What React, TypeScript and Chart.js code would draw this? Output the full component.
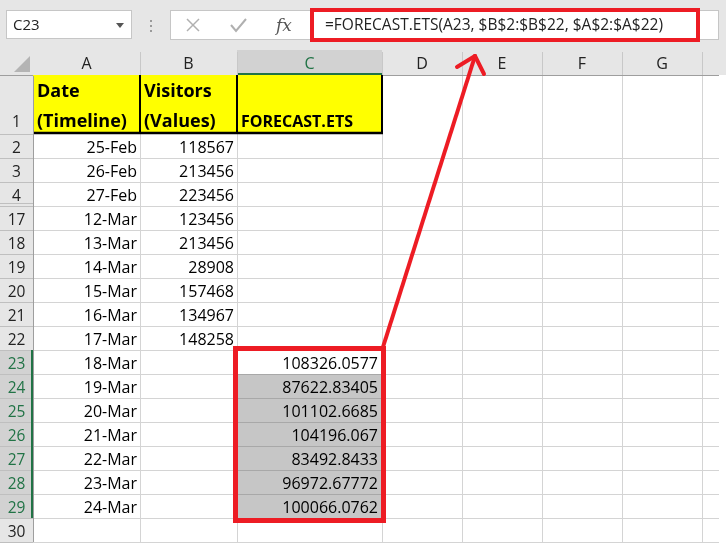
import React, { useEffect, useRef } from "react";
import { Chart, registerables } from "chart.js";

Chart.register(...registerables);

// sheet contents
const nameBox = "C23";
const formula = "=FORECAST.ETS(A23, $B$2:$B$22, $A$2:$A$22)";
const columnLetters = ["A", "B", "C", "D", "E", "F", "G"];
const rowLabels = ["1", "2", "3", "4", "17", "18", "19", "20", "21", "22", "23", "24", "25", "26", "27", "28", "29", "30"];
const headerA = ["Date", "(Timeline)"];
const headerB = ["Visitors", "(Values)"];
const headerC = "FORECAST.ETS";
const dates = ["25-Feb", "26-Feb", "27-Feb", "12-Mar", "13-Mar", "14-Mar", "15-Mar", "16-Mar", "17-Mar",
  "18-Mar", "19-Mar", "20-Mar", "21-Mar", "22-Mar", "23-Mar", "24-Mar"];
const visitors = [118567, 213456, 223456, 123456, 213456, 28908, 157468, 134967, 148258];
const forecast = [108326.0577, 87622.83405, 101102.6685, 104196.067, 83492.8433, 96972.67772, 100066.0762];

// layout (pixel units on the chart's scales)
const W = 726;
const H = 558;
const colEdges = [33, 140, 237, 382, 462, 542, 622, 702, 782];
const gridRight = 719;
const rowTop = (k: number) => (k === 0 ? 75 : 134 + 24 * (k - 1));
const rowBottom = (k: number) => (k === 0 ? 134 : rowTop(k) + 24);
const firstForecastRow = visitors.length + 1;

const GREEN = "#217346";
const RED = "#ED1C24";
const FONT = "'Open Sans', 'Noto Sans', sans-serif";

const sheetPlugin = {
  id: "sheet",
  afterDraw(chart: any) {
    const ctx: CanvasRenderingContext2D = chart.ctx;
    const sx = chart.scales.x;
    const sy = chart.scales.y;
    const X = (v: number) => sx.getPixelForValue(v);
    const Y = (v: number) => sy.getPixelForValue(v);

    const rect = (x0: number, y0: number, x1: number, y1: number, fill: string) => {
      ctx.fillStyle = fill;
      ctx.fillRect(X(x0), Y(y0), X(x1) - X(x0), Y(y1) - Y(y0));
    };
    const line = (x0: number, y0: number, x1: number, y1: number, color: string, w = 1) => {
      ctx.strokeStyle = color;
      ctx.lineWidth = w;
      ctx.beginPath();
      ctx.moveTo(X(x0), Y(y0));
      ctx.lineTo(X(x1), Y(y1));
      ctx.stroke();
    };
    const text = (s: string, x: number, y: number, font: string, color: string, align: CanvasTextAlign = "left") => {
      ctx.font = font;
      ctx.fillStyle = color;
      ctx.textAlign = align;
      ctx.textBaseline = "alphabetic";
      ctx.fillText(s, X(x), Y(y));
    };

    ctx.save();
    rect(0, 0, W, H, "#ffffff");

    // toolbar
    rect(0, 0, W, 75, "#e6e6e6");
    rect(6, 10, 132, 39, "#ffffff");
    ctx.strokeStyle = "#c6c6c6";
    ctx.lineWidth = 1;
    ctx.strokeRect(X(6) + 0.5, Y(10) + 0.5, X(132) - X(6) - 1, Y(39) - Y(10) - 1);
    text(nameBox, 13, 30, `15px ${FONT}`, "#222222");
    ctx.fillStyle = "#555555";
    ctx.beginPath();
    ctx.moveTo(X(116), Y(23));
    ctx.lineTo(X(124), Y(23));
    ctx.lineTo(X(120), Y(28));
    ctx.closePath();
    ctx.fill();
    [20, 25, 30].forEach((d) => rect(150, d, 152, d + 2, "#9a9a9a"));

    rect(170, 10, gridRight, 40, "#ffffff");
    ctx.strokeStyle = "#c6c6c6";
    ctx.strokeRect(X(170) + 0.5, Y(10) + 0.5, X(gridRight) - X(170) - 1, Y(40) - Y(10) - 1);
    line(187, 19, 199, 31, "#b0b0b0", 1.5);
    line(199, 19, 187, 31, "#b0b0b0", 1.5);
    ctx.strokeStyle = "#b0b0b0";
    ctx.lineWidth = 2;
    ctx.beginPath();
    ctx.moveTo(X(231), Y(25));
    ctx.lineTo(X(236), Y(31));
    ctx.lineTo(X(246), Y(19));
    ctx.stroke();
    text("fx", 276, 31, `italic 17px 'DejaVu Serif', serif`, "#555555");
    text(formula, 325, 30, `15.5px ${FONT}`, "#222222");

    ctx.strokeStyle = RED;
    ctx.lineWidth = 4;
    ctx.strokeRect(X(312), Y(10), X(698) - X(312), Y(40) - Y(10));

    // column headers
    rect(colEdges[2], 50, colEdges[3], 75, "#d2d2d2");
    line(colEdges[2], 74, colEdges[3], 74, GREEN, 2);
    columnLetters.forEach((c, i) => {
      const mid = (colEdges[i] + colEdges[i + 1]) / 2;
      text(c, mid, 69, `16px ${FONT}`, i === 2 ? GREEN : "#222222", "center");
      line(colEdges[i + 1] + 0.5, 52, colEdges[i + 1] + 0.5, 75, "#c8c8c8");
    });
    line(0, 75.5, gridRight, 75.5, "#9e9e9e");
    // select-all triangle
    ctx.fillStyle = "#b4b4b4";
    ctx.beginPath();
    ctx.moveTo(X(30), Y(56));
    ctx.lineTo(X(30), Y(72));
    ctx.lineTo(X(14), Y(72));
    ctx.closePath();
    ctx.fill();

    // cell grid
    rect(33, 76, gridRight, 542, "#ffffff");
    rect(colEdges[0], rowTop(0), colEdges[3], rowBottom(0), "#ffff00");
    for (let k = firstForecastRow + 1; k < firstForecastRow + forecast.length; k++) {
      rect(colEdges[2], rowTop(k), colEdges[3], rowBottom(k), "#c6c6c6");
    }
    rowLabels.forEach((_, k) => {
      if (k === 0) return;
      const y = rowBottom(k) + 0.5;
      line(33, y, gridRight, y, "#d4d4d4");
    });
    colEdges.slice(1).forEach((x) => {
      if (x >= gridRight) return;
      line(x + 0.5, 134, x + 0.5, 542, "#d4d4d4");
      if (x > colEdges[3]) line(x + 0.5, 76, x + 0.5, 134, "#d4d4d4");
    });
    for (let k = firstForecastRow + 1; k < firstForecastRow + forecast.length; k++) {
      line(colEdges[2], rowTop(k) + 0.5, colEdges[3], rowTop(k) + 0.5, "#a8a8a8");
    }
    // header cell borders
    [colEdges[1], colEdges[2], colEdges[3]].forEach((x) => line(x, 75, x, 134, "#000000", 2));
    line(33, 133, colEdges[3] + 1, 133, "#000000", 2.5);

    // row headers
    rect(0, 76, 33, 542, "#e6e6e6");
    rect(0, rowTop(firstForecastRow), 33, rowBottom(firstForecastRow + forecast.length - 1), "#d2d2d2");
    rowLabels.forEach((r, k) => {
      const sel = k >= firstForecastRow && k < firstForecastRow + forecast.length;
      text(r, 16.5, k === 0 ? 127 : rowTop(k) + 19, `15.5px ${FONT}`, sel ? GREEN : "#222222", "center");
      line(0, rowBottom(k) + 0.5, 33, rowBottom(k) + 0.5, "#bfbfbf");
    });
    line(0, rowTop(4) - 2.5, 33, rowTop(4) - 2.5, "#bfbfbf");
    line(33.5, 76, 33.5, 542, "#9e9e9e");
    line(32, rowTop(firstForecastRow), 32, rowBottom(firstForecastRow + forecast.length - 1), GREEN, 2);

    // header text
    const bold = `bold 18px ${FONT}`;
    text(headerA[0], 37, 97, bold, "#000000");
    text(headerA[1], 37, 127, bold, "#000000");
    text(headerB[0], 144, 97, bold, "#000000");
    text(headerB[1], 144, 127, bold, "#000000");
    text(headerC, 241, 127, `bold 16px ${FONT}`, "#000000");

    // values
    const cellFont = `16px ${FONT}`;
    dates.forEach((d, i) => text(d, colEdges[1] - 3, rowTop(i + 1) + 19, cellFont, "#000000", "right"));
    visitors.forEach((v, i) => text(String(v), colEdges[2] - 3, rowTop(i + 1) + 19, cellFont, "#000000", "right"));
    forecast.forEach((v, i) =>
      text(String(v), colEdges[3] - 4, rowTop(firstForecastRow + i) + 19, cellFont, "#000000", "right"));

    // selection outline and arrow
    ctx.strokeStyle = RED;
    ctx.lineWidth = 5;
    ctx.strokeRect(X(235.5), Y(348.5), X(383.5) - X(235.5), Y(520.5) - Y(348.5));
    ctx.lineCap = "round";
    ctx.lineJoin = "round";
    line(383, 347, 475, 56, RED, 4);
    line(475, 56, 457, 67, RED, 4);
    line(475, 56, 484, 74, RED, 4);
    ctx.restore();
  },
};

export default function App() {
  const canvasRef = useRef<HTMLCanvasElement>(null);

  useEffect(() => {
    const ctx = canvasRef.current?.getContext("2d");
    if (!ctx) return;

    const chart = new Chart(ctx, {
      type: "scatter",
      data: { datasets: [] },
      options: {
        responsive: false,
        animation: false,
        devicePixelRatio: window.devicePixelRatio || 1,
        layout: { padding: 0 },
        plugins: { legend: { display: false }, tooltip: { enabled: false } },
        scales: {
          x: { type: "linear", min: 0, max: W, display: false },
          y: { type: "linear", min: 0, max: H, reverse: true, display: false },
        },
      },
      plugins: [sheetPlugin],
    });

    return () => chart.destroy();
  }, []);

  return (
    <div style={{ position: "fixed", left: 0, top: 0, width: W, height: H, background: "#fff" }}>
      <canvas ref={canvasRef} width={W} height={H} style={{ width: W, height: H }}></canvas>
    </div>
  );
}
